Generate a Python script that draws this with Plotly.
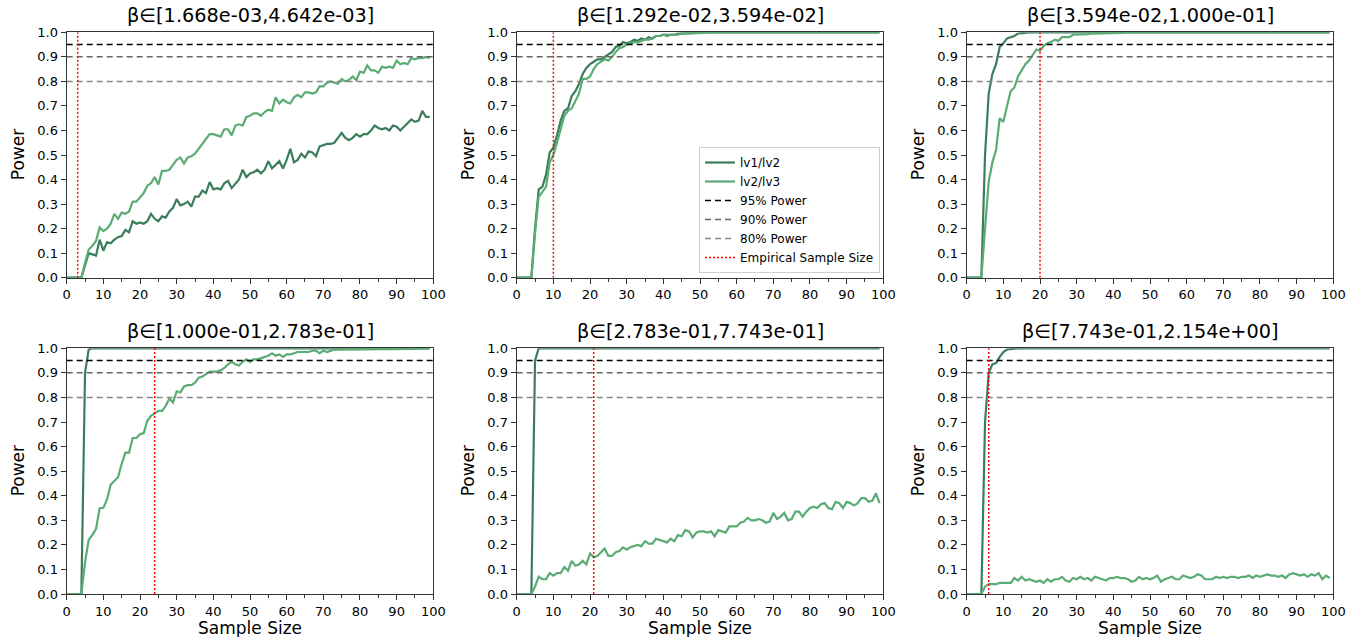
import plotly.graph_objects as go

sample_size = list(range(100))

titles = [
    "β∈[1.668e-03,4.642e-03]",
    "β∈[1.292e-02,3.594e-02]",
    "β∈[3.594e-02,1.000e-01]",
    "β∈[1.000e-01,2.783e-01]",
    "β∈[2.783e-01,7.743e-01]",
    "β∈[7.743e-01,2.154e+00]",
]
empirical_sample_size = [3, 10, 20, 24, 21, 6]
power_levels = [0.95, 0.90, 0.80]
power_names = ["95% Power", "90% Power", "80% Power"]

p1_lv12 = [
    0, 0, 0, 0, 0, 0.05, 0.10, 0.095, 0.09, 0.155,
    0.11, 0.145, 0.14, 0.155, 0.165, 0.17, 0.195, 0.185, 0.23, 0.22,
    0.225, 0.22, 0.23, 0.26, 0.24, 0.23, 0.25, 0.245, 0.27, 0.285,
    0.32, 0.295, 0.30, 0.31, 0.29, 0.33, 0.33, 0.355, 0.345, 0.39,
    0.36, 0.365, 0.36, 0.385, 0.395, 0.365, 0.385, 0.40, 0.44, 0.41,
    0.425, 0.43, 0.44, 0.425, 0.44, 0.475, 0.445, 0.46, 0.475, 0.445,
    0.48, 0.525, 0.47, 0.48, 0.505, 0.49, 0.515, 0.51, 0.495, 0.535,
    0.54, 0.545, 0.545, 0.55, 0.57, 0.59, 0.57, 0.56, 0.57, 0.585,
    0.575, 0.585, 0.585, 0.60, 0.62, 0.61, 0.605, 0.61, 0.60, 0.62,
    0.615, 0.60, 0.615, 0.63, 0.645, 0.635, 0.64, 0.68, 0.655, 0.655,
]
p1_lv23 = [
    0, 0, 0, 0, 0, 0.06, 0.115, 0.13, 0.15, 0.205,
    0.19, 0.20, 0.22, 0.26, 0.24, 0.265, 0.26, 0.27, 0.31, 0.31,
    0.33, 0.345, 0.375, 0.385, 0.41, 0.38, 0.435, 0.435, 0.44, 0.46,
    0.48, 0.49, 0.465, 0.49, 0.495, 0.505, 0.525, 0.545, 0.565, 0.585,
    0.585, 0.58, 0.575, 0.605, 0.605, 0.58, 0.62, 0.625, 0.62, 0.655,
    0.66, 0.67, 0.67, 0.66, 0.675, 0.685, 0.68, 0.735, 0.71, 0.725,
    0.715, 0.71, 0.735, 0.745, 0.735, 0.755, 0.755, 0.75, 0.755, 0.78,
    0.78, 0.795, 0.80, 0.795, 0.79, 0.81, 0.80, 0.805, 0.82, 0.805,
    0.84, 0.835, 0.865, 0.845, 0.845, 0.835, 0.86, 0.855, 0.86, 0.855,
    0.885, 0.87, 0.875, 0.87, 0.895, 0.89, 0.895, 0.895, 0.90, 0.895,
]
p2_lv12 = [
    0, 0, 0, 0, 0, 0.20, 0.36, 0.37, 0.42, 0.51,
    0.53, 0.58, 0.64, 0.68, 0.69, 0.74, 0.76, 0.79, 0.83, 0.855,
    0.87, 0.88, 0.89, 0.89, 0.90, 0.91, 0.92, 0.94, 0.945, 0.96,
    0.955, 0.96, 0.97, 0.965, 0.975, 0.97, 0.98, 0.975, 0.985, 0.985,
    0.99, 0.99, 0.99, 0.99, 0.995, 0.995, 0.995, 0.998, 0.998, 0.998,
    1, 1, 1, 1, 1, 1, 1, 1, 1, 1,
    1, 1, 1, 1, 1, 1, 1, 1, 1, 1,
    1, 1, 1, 1, 1, 1, 1, 1, 1, 1,
    1, 1, 1, 1, 1, 1, 1, 1, 1, 1,
    1, 1, 1, 1, 1, 1, 1, 1, 1, 1,
]
p2_lv23 = [
    0, 0, 0, 0, 0, 0.18, 0.33, 0.35, 0.37, 0.47,
    0.50, 0.55, 0.60, 0.66, 0.68, 0.69, 0.72, 0.75, 0.81, 0.81,
    0.82, 0.85, 0.87, 0.88, 0.89, 0.885, 0.90, 0.92, 0.935, 0.94,
    0.95, 0.955, 0.96, 0.96, 0.965, 0.97, 0.97, 0.975, 0.985, 0.985,
    0.99, 0.985, 0.99, 0.99, 0.99, 0.995, 0.995, 0.995, 0.998, 0.998,
    0.998, 0.998, 1, 1, 1, 1, 1, 1, 1, 1,
    1, 1, 1, 1, 1, 1, 1, 1, 1, 1,
    1, 1, 1, 1, 1, 1, 1, 1, 1, 1,
    1, 1, 1, 1, 1, 1, 1, 1, 1, 1,
    1, 1, 1, 1, 1, 1, 1, 1, 1, 1,
]
p3_lv12 = [
    0, 0, 0, 0, 0, 0.50, 0.75, 0.83, 0.87, 0.94,
    0.955, 0.975, 0.98, 0.985, 0.995, 0.995, 0.998, 1, 1, 1,
    1, 1, 1, 1, 1, 1, 1, 1, 1, 1,
    1, 1, 1, 1, 1, 1, 1, 1, 1, 1,
    1, 1, 1, 1, 1, 1, 1, 1, 1, 1,
    1, 1, 1, 1, 1, 1, 1, 1, 1, 1,
    1, 1, 1, 1, 1, 1, 1, 1, 1, 1,
    1, 1, 1, 1, 1, 1, 1, 1, 1, 1,
    1, 1, 1, 1, 1, 1, 1, 1, 1, 1,
    1, 1, 1, 1, 1, 1, 1, 1, 1, 1,
]
p3_lv23 = [
    0, 0, 0, 0, 0, 0.20, 0.39, 0.47, 0.52, 0.65,
    0.635, 0.70, 0.76, 0.775, 0.82, 0.845, 0.87, 0.885, 0.905, 0.93,
    0.925, 0.945, 0.955, 0.96, 0.97, 0.965, 0.98, 0.98, 0.98, 0.99,
    0.99, 0.99, 0.99, 0.992, 0.995, 0.995, 0.995, 0.995, 0.997, 0.997,
    0.998, 0.998, 0.998, 1, 1, 1, 1, 1, 1, 1,
    1, 1, 1, 1, 1, 1, 1, 1, 1, 1,
    1, 1, 1, 1, 1, 1, 1, 1, 1, 1,
    1, 1, 1, 1, 1, 1, 1, 1, 1, 1,
    1, 1, 1, 1, 1, 1, 1, 1, 1, 1,
    1, 1, 1, 1, 1, 1, 1, 1, 1, 1,
]
p4_lv12 = [
    0, 0, 0, 0, 0, 0.90, 0.995, 1, 1, 1,
    1, 1, 1, 1, 1, 1, 1, 1, 1, 1,
    1, 1, 1, 1, 1, 1, 1, 1, 1, 1,
    1, 1, 1, 1, 1, 1, 1, 1, 1, 1,
    1, 1, 1, 1, 1, 1, 1, 1, 1, 1,
    1, 1, 1, 1, 1, 1, 1, 1, 1, 1,
    1, 1, 1, 1, 1, 1, 1, 1, 1, 1,
    1, 1, 1, 1, 1, 1, 1, 1, 1, 1,
    1, 1, 1, 1, 1, 1, 1, 1, 1, 1,
    1, 1, 1, 1, 1, 1, 1, 1, 1, 1,
]
p4_lv23 = [
    0, 0, 0, 0, 0, 0.13, 0.22, 0.24, 0.265, 0.35,
    0.35, 0.385, 0.445, 0.46, 0.475, 0.53, 0.575, 0.575, 0.635, 0.635,
    0.65, 0.655, 0.705, 0.725, 0.735, 0.745, 0.745, 0.765, 0.795, 0.78,
    0.825, 0.82, 0.845, 0.85, 0.85, 0.86, 0.88, 0.885, 0.895, 0.905,
    0.905, 0.905, 0.91, 0.92, 0.935, 0.945, 0.935, 0.93, 0.945, 0.955,
    0.945, 0.955, 0.955, 0.96, 0.965, 0.97, 0.98, 0.97, 0.975, 0.965,
    0.975, 0.975, 0.98, 0.985, 0.985, 0.985, 0.985, 0.99, 0.99, 0.98,
    0.99, 0.985, 0.99, 0.995, 0.995, 0.995, 0.995, 0.995, 0.995, 0.995,
    0.995, 0.995, 0.995, 0.997, 0.997, 0.997, 0.997, 0.995, 0.997, 0.998,
    0.998, 0.998, 0.998, 0.998, 0.998, 0.998, 0.999, 0.999, 1, 1,
]
p5_lv12 = [
    0, 0, 0, 0, 0, 0.95, 1, 1, 1, 1,
    1, 1, 1, 1, 1, 1, 1, 1, 1, 1,
    1, 1, 1, 1, 1, 1, 1, 1, 1, 1,
    1, 1, 1, 1, 1, 1, 1, 1, 1, 1,
    1, 1, 1, 1, 1, 1, 1, 1, 1, 1,
    1, 1, 1, 1, 1, 1, 1, 1, 1, 1,
    1, 1, 1, 1, 1, 1, 1, 1, 1, 1,
    1, 1, 1, 1, 1, 1, 1, 1, 1, 1,
    1, 1, 1, 1, 1, 1, 1, 1, 1, 1,
    1, 1, 1, 1, 1, 1, 1, 1, 1, 1,
]
p5_lv23 = [
    0, 0, 0, 0, 0, 0.03, 0.07, 0.06, 0.06, 0.085,
    0.075, 0.085, 0.085, 0.11, 0.095, 0.135, 0.115, 0.12, 0.135, 0.12,
    0.165, 0.15, 0.155, 0.17, 0.185, 0.155, 0.155, 0.17, 0.175, 0.19,
    0.18, 0.19, 0.195, 0.20, 0.195, 0.215, 0.205, 0.205, 0.225, 0.22,
    0.215, 0.21, 0.225, 0.215, 0.24, 0.235, 0.26, 0.255, 0.23, 0.25,
    0.255, 0.255, 0.25, 0.255, 0.235, 0.26, 0.255, 0.25, 0.275, 0.275,
    0.275, 0.29, 0.295, 0.31, 0.30, 0.30, 0.305, 0.30, 0.29, 0.295,
    0.33, 0.305, 0.315, 0.33, 0.30, 0.305, 0.335, 0.335, 0.315, 0.335,
    0.35, 0.355, 0.35, 0.365, 0.37, 0.35, 0.345, 0.375, 0.37, 0.35,
    0.375, 0.37, 0.36, 0.37, 0.39, 0.39, 0.375, 0.38, 0.41, 0.37,
]
p6_lv12 = [
    0, 0, 0, 0, 0, 0.70, 0.90, 0.935, 0.94, 0.965,
    0.985, 0.995, 0.997, 1, 1, 1, 1, 1, 1, 1,
    1, 1, 1, 1, 1, 1, 1, 1, 1, 1,
    1, 1, 1, 1, 1, 1, 1, 1, 1, 1,
    1, 1, 1, 1, 1, 1, 1, 1, 1, 1,
    1, 1, 1, 1, 1, 1, 1, 1, 1, 1,
    1, 1, 1, 1, 1, 1, 1, 1, 1, 1,
    1, 1, 1, 1, 1, 1, 1, 1, 1, 1,
    1, 1, 1, 1, 1, 1, 1, 1, 1, 1,
    1, 1, 1, 1, 1, 1, 1, 1, 1, 1,
]
p6_lv23 = [
    0, 0, 0, 0, 0, 0.03, 0.04, 0.04, 0.04, 0.045,
    0.045, 0.045, 0.045, 0.065, 0.055, 0.07, 0.055, 0.06, 0.055, 0.05,
    0.055, 0.045, 0.06, 0.05, 0.06, 0.06, 0.07, 0.055, 0.05, 0.065,
    0.06, 0.07, 0.06, 0.065, 0.055, 0.07, 0.065, 0.06, 0.055, 0.065,
    0.065, 0.07, 0.065, 0.065, 0.06, 0.05, 0.055, 0.07, 0.06, 0.065,
    0.06, 0.065, 0.075, 0.05, 0.06, 0.065, 0.07, 0.06, 0.06, 0.075,
    0.07, 0.065, 0.07, 0.08, 0.075, 0.06, 0.06, 0.06, 0.07, 0.065,
    0.07, 0.065, 0.07, 0.07, 0.065, 0.07, 0.07, 0.075, 0.065, 0.075,
    0.07, 0.075, 0.08, 0.075, 0.075, 0.07, 0.075, 0.065, 0.08, 0.085,
    0.08, 0.075, 0.08, 0.07, 0.08, 0.075, 0.085, 0.06, 0.075, 0.065,
]

lv12_series = [p1_lv12, p2_lv12, p3_lv12, p4_lv12, p5_lv12, p6_lv12]
lv23_series = [p1_lv23, p2_lv23, p3_lv23, p4_lv23, p5_lv23, p6_lv23]

DARK = "#3b7d5b"
LIGHT = "#5aab74"
power_colors = ["#000000", "#666666", "#888888"]
AXCOL = "#333333"
FONT = "DejaVu Sans"

W, H = 1363, 637
x_px = [(66.7, 433.3), (516.7, 883.3), (966.7, 1333.3)]
y_px = [(32.3, 277.7), (348.3, 594.0)]

fig = go.Figure()
layout_axes = {}
annotations = []

for i in range(6):
    r, c = divmod(i, 3)
    xd = [x_px[c][0] / W, x_px[c][1] / W]
    yd = [1 - y_px[r][1] / H, 1 - y_px[r][0] / H]
    n = i + 1
    xa = "x" if n == 1 else f"x{n}"
    ya = "y" if n == 1 else f"y{n}"
    xkey = "xaxis" if n == 1 else f"xaxis{n}"
    ykey = "yaxis" if n == 1 else f"yaxis{n}"
    show = (i == 1)

    fig.add_trace(go.Scatter(x=sample_size, y=lv12_series[i], mode="lines",
                             line=dict(color=DARK, width=2.2), name="lv1/lv2",
                             legendgroup="a", showlegend=show, xaxis=xa, yaxis=ya))
    fig.add_trace(go.Scatter(x=sample_size, y=lv23_series[i], mode="lines",
                             line=dict(color=LIGHT, width=2.2), name="lv2/lv3",
                             legendgroup="b", showlegend=show, xaxis=xa, yaxis=ya))
    for lvl, nm, col, g in zip(power_levels, power_names, power_colors, "cde"):
        fig.add_trace(go.Scatter(x=[0, 100], y=[lvl, lvl], mode="lines",
                                 line=dict(color=col, width=1.5, dash="6px,4px"), name=nm,
                                 legendgroup=g, showlegend=show, xaxis=xa, yaxis=ya))
    s = empirical_sample_size[i]
    fig.add_trace(go.Scatter(x=[s, s], y=[0, 1], mode="lines",
                             line=dict(color="red", width=1.5, dash="2px,2px"),
                             name="Empirical Sample Size",
                             legendgroup="f", showlegend=show, xaxis=xa, yaxis=ya))

    common = dict(showline=True, mirror=True, linecolor=AXCOL, linewidth=1.3,
                  ticks="outside", tickcolor=AXCOL, tickwidth=1.2, ticklen=5,
                  showgrid=False, zeroline=False, automargin=False,
                  tickfont=dict(family=FONT, size=13, color="black"))
    layout_axes[xkey] = dict(domain=xd, anchor=ya, range=[0, 100], dtick=10, tick0=0,
                             minor=dict(dtick=5, tick0=0, ticks="outside", ticklen=3,
                                        tickcolor=AXCOL, tickwidth=1.2),
                             **common)
    layout_axes[ykey] = dict(domain=yd, anchor=xa, range=[0, 1], dtick=0.1, tick0=0,
                             tickformat=".1f", **common)

    annotations.append(dict(text=titles[i], x=(xd[0] + xd[1]) / 2, y=yd[1] + 16.5 / H,
                            xref="paper", yref="paper", showarrow=False,
                            xanchor="center", yanchor="middle",
                            font=dict(family=FONT, size=19.3, color="black")))
    annotations.append(dict(text="Power", x=xd[0] - 48.5 / W, y=(yd[0] + yd[1]) / 2,
                            xref="paper", yref="paper", showarrow=False, textangle=-90,
                            xanchor="center", yanchor="middle",
                            font=dict(family=FONT, size=17, color="black")))
    if r == 1:
        annotations.append(dict(text="Sample Size", x=(xd[0] + xd[1]) / 2, y=yd[0] - 34 / H,
                                xref="paper", yref="paper", showarrow=False,
                                xanchor="center", yanchor="middle",
                                font=dict(family=FONT, size=17, color="black")))

fig.update_layout(
    width=W, height=H,
    margin=dict(l=0, r=0, t=0, b=0, autoexpand=False),
    paper_bgcolor="white", plot_bgcolor="white",
    font=dict(family=FONT, color="black"),
    annotations=annotations,
    showlegend=True,
    legend=dict(x=880 / W, y=1 - 273 / H, xanchor="right", yanchor="bottom",
                bgcolor="white", bordercolor="#cccccc", borderwidth=1,
                font=dict(family=FONT, size=12, color="black"),
                tracegroupgap=0, itemwidth=30),
    **layout_axes,
)

fig.write_html("out.html",
               config={"displayModeBar": False},
               post_script="document.body.style.margin='0';document.body.style.padding='0';")
